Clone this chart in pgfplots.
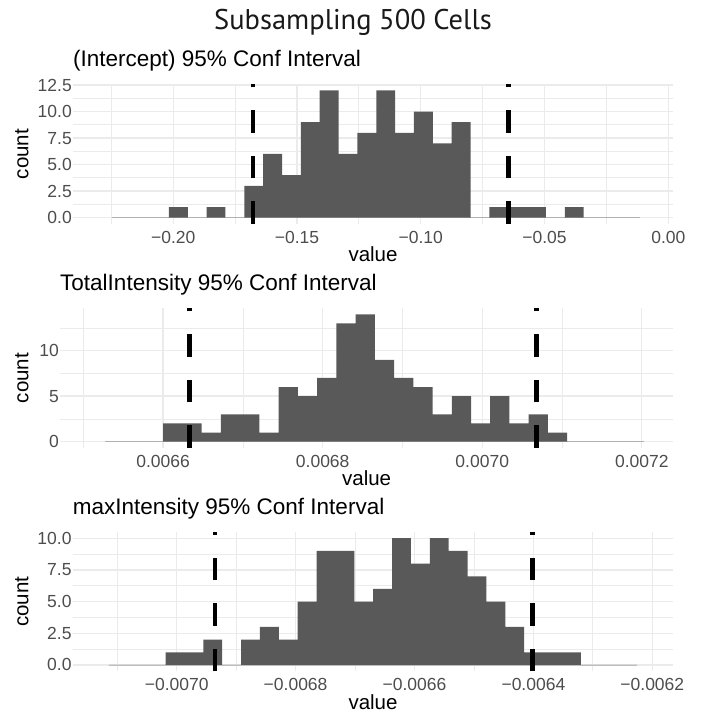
\documentclass[border=0pt]{standalone}
\usepackage{pgfplots}
\pgfplotsset{compat=1.18}
\usepackage{fontspec}
\setmainfont{Liberation Sans}
\newfontfamily\titlefont{PT Sans}
\definecolor{barc}{HTML}{595959}
\definecolor{gridc}{HTML}{EBEBEB}
\definecolor{tickc}{HTML}{4D4D4D}
\definecolor{basec}{HTML}{BEBEBE}

\pgfplotsset{
  every axis title shift=0pt,
  every axis title/.style={at={(axis description cs:0,1)}, anchor=base west, yshift=17pt, inner sep=0pt},
  every axis x label/.style={at={(axis description cs:0.5,0)}, anchor=base, yshift=-37.8pt, inner sep=0pt},
  every axis y label/.style={rotate=90, anchor=base, inner sep=0pt},
  panel/.style={
    scale only axis,
    anchor=south west,
    axis line style={draw=none},
    tick style={draw=none},
    grid=both,
    major grid style={color=gridc, line width=1.4pt},
    minor grid style={color=gridc, line width=0.8pt},
    ticklabel style={font=\fontsize{17.5}{20}\selectfont, text=tickc, inner sep=0pt},
    xticklabel style={anchor=north},
    yticklabel style={anchor=east},
    xticklabel shift=7pt,
    yticklabel shift=1pt,
    label style={font=\fontsize{20.5}{23}\selectfont, text=black},
    title style={font=\fontsize{22.5}{25}\selectfont, text=black},
    xlabel={value},
    ylabel={count},
  },
  bars/.style={ybar interval, fill=barc, draw=none},
  base/.style={color=basec, line width=0.9pt},
  ci/.style={black, line width=4.8pt, dash pattern=on 22.5pt off 23pt, line cap=butt},
}

\begin{document}
\begin{tikzpicture}
\path[use as bounding box] (0pt,0pt) rectangle (710pt,714pt);

\node[font=\titlefont\fontsize{28.5}{31}\selectfont, anchor=base, text=black!90] at (353pt,684pt) {Subsampling 500 Cells};

% ---------- Panel 1 ----------
\begin{axis}[panel,
  at={(73pt,490pt)}, width=600pt, height=140pt,
  xmin=-0.2405, xmax=0.0019, ymin=-0.6, ymax=12.6,
  xtick={-0.2,-0.15,-0.1,-0.05,0},
  xticklabels={−0.20,−0.15,−0.10,−0.05,0.00},
  minor xtick={-0.225,-0.175,-0.125,-0.075,-0.025},
  ytick={0,2.5,5,7.5,10,12.5},
  yticklabels={0.0,2.5,5.0,7.5,10.0,12.5},
  minor ytick={1.25,3.75,6.25,8.75,11.25},
  title={(Intercept) 95\% Conf Interval},
  ylabel style={at={(axis description cs:-0.0745,0.5)}},
]
\addplot[base] coordinates {(-0.22459,0) (-0.01135,0)};
\addplot[bars] coordinates {
(-0.22459,0) (-0.21697,0) (-0.20936,0) (-0.20174,1) (-0.19413,0)
(-0.18651,1) (-0.17890,0) (-0.17128,3) (-0.16366,6) (-0.15605,4)
(-0.14843,9) (-0.14082,12) (-0.13320,6) (-0.12559,8) (-0.11797,12)
(-0.11035,8) (-0.10274,10) (-0.09512,7) (-0.08751,9) (-0.07989,0)
(-0.07228,1) (-0.06466,1) (-0.05704,1) (-0.04943,0) (-0.04181,1)
(-0.03420,0) (-0.02658,0) (-0.01897,0) (-0.01135,0)
};
\addplot[ci] coordinates {(-0.1678,-0.6) (-0.1678,12.6)};
\addplot[ci] coordinates {(-0.0644,-0.6) (-0.0644,12.6)};
\end{axis}

% ---------- Panel 2 (x in units of 1e-4) ----------
\begin{axis}[panel,
  at={(60pt,266pt)}, width=613.3pt, height=140pt,
  xmin=64.707, xmax=72.395, ymin=-0.7, ymax=14.7,
  xtick={66,68,70,72},
  xticklabels={0.0066,0.0068,0.0070,0.0072},
  minor xtick={65,67,69,71},
  ytick={0,5,10},
  yticklabels={0,5,10},
  minor ytick={2.5,7.5,12.5},
  title={TotalIntensity 95\% Conf Interval},
  ylabel style={at={(axis description cs:-0.0517,0.5)}},
]
\addplot[base] coordinates {(65.2766,0) (72.0297,0)};
\addplot[bars] coordinates {
(65.2766,0) (65.5178,0) (65.7590,0) (66.0002,2) (66.2413,2)
(66.4825,1) (66.7237,3) (66.9649,3) (67.2061,1) (67.4473,6)
(67.6884,5) (67.9296,7) (68.1708,13) (68.4120,14) (68.6532,9)
(68.8943,7) (69.1355,6) (69.3767,3) (69.6179,5) (69.8591,2)
(70.1003,5) (70.3414,2) (70.5826,3) (70.8238,1) (71.0650,0)
(71.3062,0) (71.5473,0) (71.7885,0) (72.0297,0)
};
\addplot[ci] coordinates {(66.334,-0.7) (66.334,14.7)};
\addplot[ci] coordinates {(70.681,-0.7) (70.681,14.7)};
\end{axis}

% ---------- Panel 3 (x in units of 1e-4) ----------
\begin{axis}[panel,
  at={(72.7pt,42.7pt)}, width=600.6pt, height=139.4pt,
  xmin=-71.749, xmax=-61.647, ymin=-0.5, ymax=10.5,
  xtick={-70,-68,-66,-64,-62},
  xticklabels={−0.0070,−0.0068,−0.0066,−0.0064,−0.0062},
  minor xtick={-71,-69,-67,-65,-63},
  ytick={0,2.5,5,7.5,10},
  yticklabels={0.0,2.5,5.0,7.5,10.0},
  minor ytick={1.25,3.75,6.25,8.75},
  title={maxIntensity 95\% Conf Interval},
  ylabel style={at={(axis description cs:-0.0739,0.5)}},
]
\addplot[base] coordinates {(-71.1388,0) (-62.2513,0)};
\addplot[bars] coordinates {
(-71.1388,0) (-70.8214,0) (-70.5040,0) (-70.1866,1) (-69.8691,1)
(-69.5517,2) (-69.2343,0) (-68.9169,2) (-68.5995,3) (-68.2821,2)
(-67.9647,5) (-67.6473,9) (-67.3299,9) (-67.0124,5) (-66.6950,6)
(-66.3776,10) (-66.0602,8) (-65.7428,10) (-65.4254,9) (-65.1080,7)
(-64.7906,5) (-64.4732,3) (-64.1557,1) (-63.8383,1) (-63.5209,1)
(-63.2035,0) (-62.8861,0) (-62.5687,0) (-62.2513,0)
};
\addplot[ci] coordinates {(-69.356,-0.5) (-69.356,10.5)};
\addplot[ci] coordinates {(-64.012,-0.5) (-64.012,10.5)};
\end{axis}
\end{tikzpicture}
\end{document}
